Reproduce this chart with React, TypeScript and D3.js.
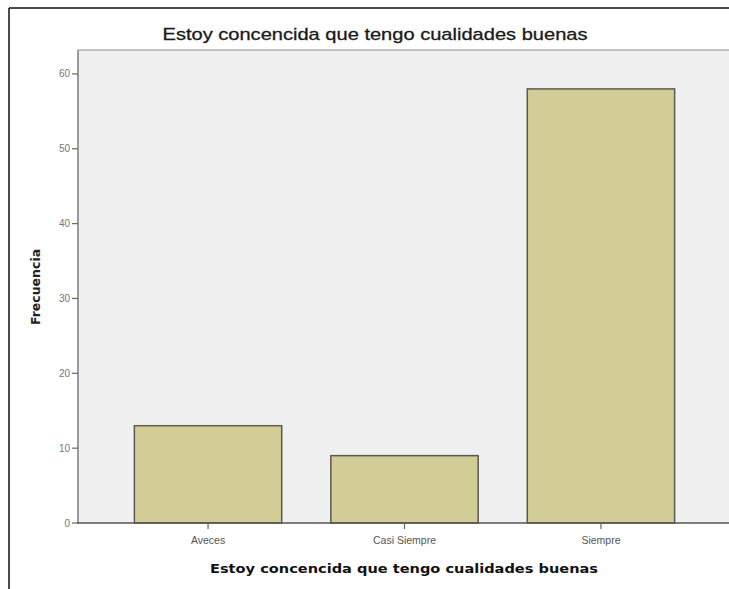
import React from "react";
import * as d3 from "d3";

const categories = ["Aveces", "Casi Siempre", "Siempre"];
const values = [13, 9, 58];
const yTicks = [0, 10, 20, 30, 40, 50, 60];
const chartTitle = "Estoy concencida que tengo cualidades buenas";
const xTitle = "Estoy concencida que tengo cualidades buenas";
const yTitle = "Frecuencia";

export default function App() {
  const W = 729, H = 589;
  const left = 78, right = 731, top = 50, bottom = 523;
  const x = d3.scaleBand<string>().domain(categories).range([left, right]).paddingInner(0.25).paddingOuter(0.287);
  const y = d3.scaleLinear().domain([0, 63.2]).range([bottom, top]);
  return (
    <svg width={W} height={H} style={{ position: "absolute", left: 0, top: 0, background: "#fff" }}>
      <rect x={0} y={0} width={W} height={H} fill="#fff" />
      <line x1={9} x2={W} y1={8} y2={8} stroke="#111" strokeWidth={1.5} />
      <line x1={9} x2={9} y1={8} y2={H} stroke="#111" strokeWidth={1.5} />
      <rect x={left} y={top} width={right - left} height={bottom - top} fill="#f0f0f0" />
      <line x1={left} x2={W} y1={top} y2={top} stroke="#8a8a8a" strokeWidth={1.2} />
      <text x={375} y={40} textAnchor="middle" fontFamily="Liberation Sans, Arial, sans-serif" fontSize={17} fill="#1a1a1a" stroke="#1a1a1a" strokeWidth={0.3} textLength={425} lengthAdjust="spacingAndGlyphs">{chartTitle}</text>
      {categories.map((c, i) => (
        <rect key={c} x={x(c)!} y={y(values[i])} width={x.bandwidth()} height={y(0) - y(values[i])} fill="#d2cd96" stroke="#5a5a50" strokeWidth={1.5} />
      ))}
      <line x1={left} x2={left} y1={top} y2={bottom} stroke="#9a9a9a" strokeWidth={2} />
      <line x1={left - 1} x2={W} y1={bottom} y2={bottom} stroke="#555" strokeWidth={1.5} />
      {yTicks.map(t => (
        <g key={t}>
          <line x1={left - 6} x2={left} y1={y(t)} y2={y(t)} stroke="#666" strokeWidth={1.2} />
          <text x={left - 8} y={y(t) + 3.5} textAnchor="end" fontFamily="Liberation Sans, Arial, sans-serif" fontSize={10} fill="#777">{t}</text>
        </g>
      ))}
      {categories.map(c => {
        const cx = x(c)! + x.bandwidth() / 2;
        return (
          <g key={c}>
            <line x1={cx} x2={cx} y1={bottom} y2={bottom + 6} stroke="#666" strokeWidth={1.2} />
            <text x={cx} y={544} textAnchor="middle" fontFamily="Liberation Sans, Arial, sans-serif" fontSize={10.5} fill="#555">{c}</text>
          </g>
        );
      })}
      <text x={404} y={573} textAnchor="middle" fontFamily="DejaVu Sans, Verdana, sans-serif" fontWeight="bold" fontSize={13} fill="#111" textLength={388} lengthAdjust="spacingAndGlyphs">{xTitle}</text>
      <text transform="translate(40,287) rotate(-90)" textAnchor="middle" fontFamily="DejaVu Sans, Verdana, sans-serif" fontWeight="bold" fontSize={12.5} fill="#222">{yTitle}</text>
    </svg>
  );
}
